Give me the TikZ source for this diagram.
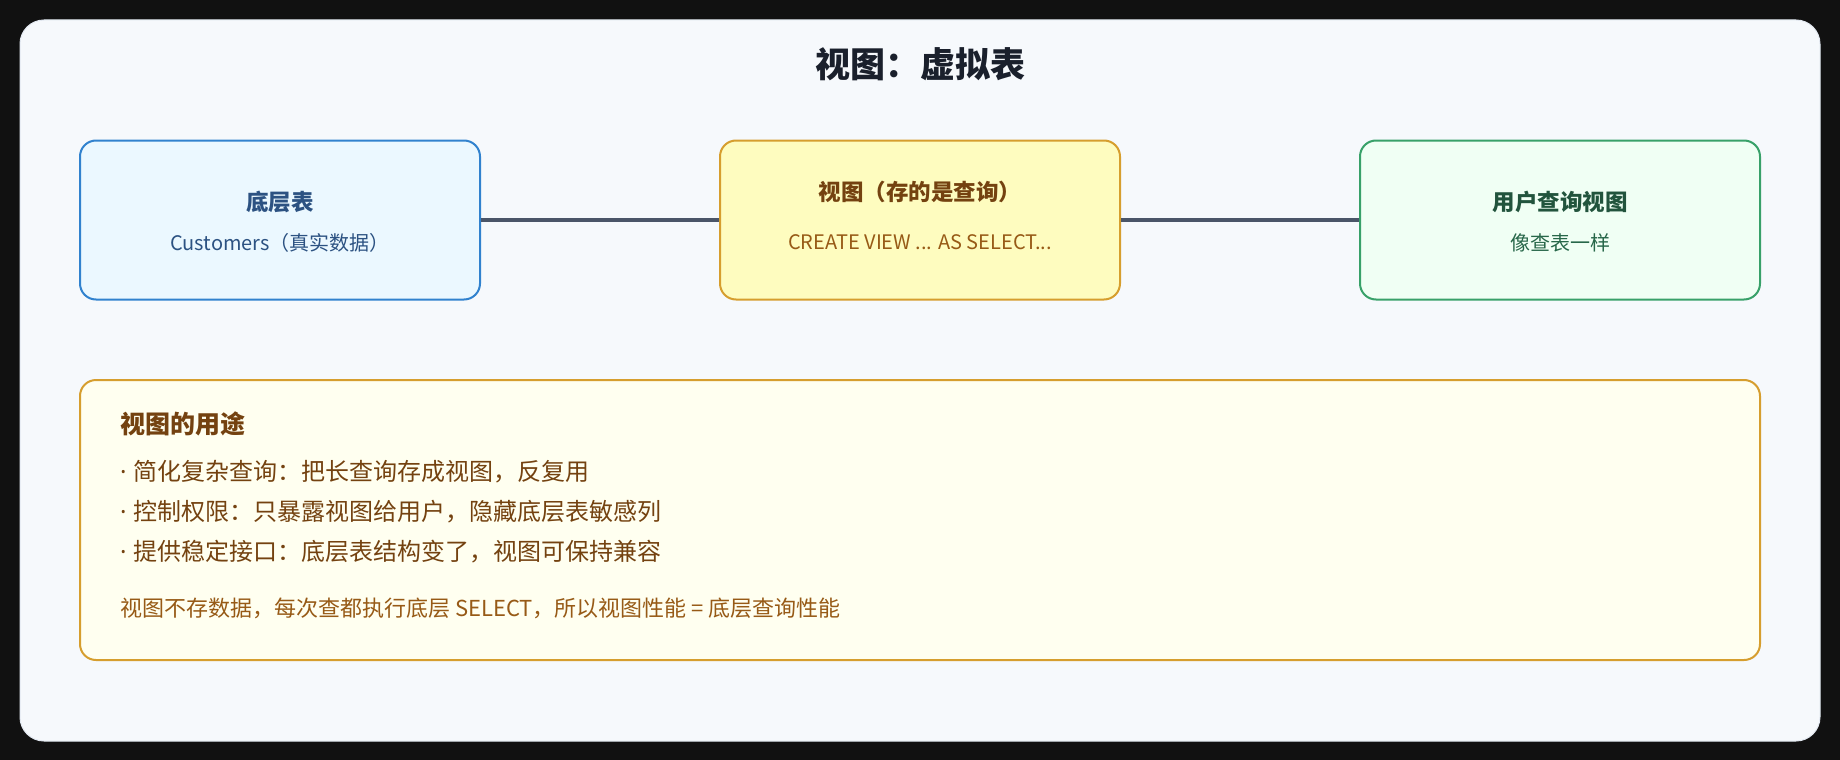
\documentclass[tikz,border=0pt]{standalone}
\usepackage{fontspec}
\setmainfont{Noto Sans CJK SC}
\newfontfamily\latinf{Noto Sans}
\definecolor{bgdark}{HTML}{111111}
\definecolor{panel}{HTML}{F6F9FC}
\definecolor{panelline}{HTML}{E2E8F0}
\definecolor{titlec}{HTML}{1A202C}
\definecolor{bluefill}{HTML}{EBF8FF}
\definecolor{bluedraw}{HTML}{3182CE}
\definecolor{bluetext}{HTML}{2C5282}
\definecolor{yelfill}{HTML}{FEFCBF}
\definecolor{yeldraw}{HTML}{D69E2E}
\definecolor{browntext}{HTML}{744210}
\definecolor{brownsub}{HTML}{975A16}
\definecolor{grnfill}{HTML}{F0FFF4}
\definecolor{grndraw}{HTML}{38A169}
\definecolor{grntext}{HTML}{22543D}
\definecolor{grnsub}{HTML}{276749}
\definecolor{notefill}{HTML}{FFFFF0}
\definecolor{linkc}{HTML}{4A5568}
\newcommand{\bulletdot}{{\latinf ·}\hspace{0.3em}}
\tikzset{
  box/.style={rounded corners=16pt, line width=2pt, minimum width=400pt, minimum height=159pt, inner sep=0pt},
  boxtitle/.style={font=\fontsize{22.5}{26}\selectfont\bfseries, inner sep=0pt, anchor=center},
  boxsub/.style={font=\fontsize{20}{24}\selectfont, inner sep=0pt, anchor=center},
  link/.style={linkc, line width=3.5pt},
  bodytext/.style={anchor=west, inner sep=0pt, text=browntext, font=\fontsize{24}{28}\selectfont},
}
\begin{document}
\begin{tikzpicture}[x=1pt,y=-1pt]
\fill[bgdark] (0,0) rectangle (1840,760);
\useasboundingbox (0,0) rectangle (1840,760);
\filldraw[fill=panel, draw=panelline, line width=1pt, rounded corners=24pt] (20,20) rectangle (1820,741);
\node[inner sep=0pt, text=titlec, font=\fontsize{35}{40}\selectfont\bfseries] (title) at (920,64) {视图：虚拟表};
% top boxes
\node[box, fill=bluefill, draw=bluedraw] (base) at (280,220) {};
\node[box, fill=yelfill, draw=yeldraw] (view) at (920,220) {};
\node[box, fill=grnfill, draw=grndraw] (user) at (1560,220) {};
\draw[link] (base.east) -- (view.west);
\draw[link] (view.east) -- (user.west);
\node[boxtitle, text=bluetext] (baset) at (280,202) {底层表};
\node[boxsub, text=bluetext] (bases) at (280,243) {Customers（真实数据）};
\node[boxtitle, text=browntext] (viewt) at (920,192) {视图（存的是查询）};
\node[boxsub, text=brownsub] (views) at (920,242) {CREATE VIEW ... AS SELECT...};
\node[boxtitle, text=grntext] (usert) at (1560,202) {用户查询视图};
\node[boxsub, text=grnsub] (users) at (1560,243) {像查表一样};
% bottom box
\filldraw[fill=notefill, draw=yeldraw, line width=2pt, rounded corners=16pt] (80,380) rectangle (1760,660);
\node[bodytext, font=\fontsize{25}{29}\selectfont\bfseries] (uses) at (120,424) {视图的用途};
\node[bodytext] (b1) at (120,472) {\bulletdot 简化复杂查询：把长查询存成视图，反复用};
\node[bodytext] (b2) at (120,512) {\bulletdot 控制权限：只暴露视图给用户，隐藏底层表敏感列};
\node[bodytext] (b3) at (120,552) {\bulletdot 提供稳定接口：底层表结构变了，视图可保持兼容};
\node[bodytext, text=brownsub, font=\fontsize{22}{26}\selectfont] (note) at (120,608) {视图不存数据，每次查都执行底层 SELECT，所以视图性能 = 底层查询性能};
\end{tikzpicture}
\end{document}
